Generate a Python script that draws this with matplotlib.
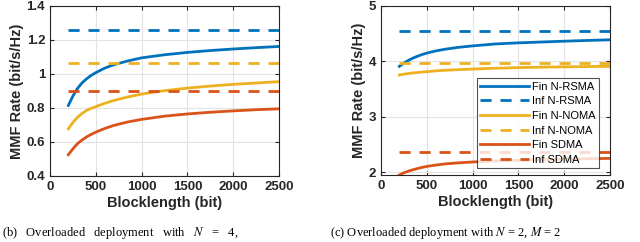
import matplotlib.pyplot as plt

plt.rcParams["font.family"] = ["Liberation Sans", "DejaVu Sans"]
plt.rcParams["mathtext.fontset"] = "stix"

C_RSMA = "#0072BD"
C_NOMA = "#EDB120"
C_SDMA = "#D95319"

blocklength = [200, 250, 300, 350, 400, 450, 500, 600, 700, 850,
               1000, 1250, 1500, 1750, 2000, 2250, 2500]

# left panel (b)
fin_rsma_b = [0.815, 0.87, 0.915, 0.948, 0.972, 0.992, 1.008, 1.035, 1.055,
              1.077, 1.095, 1.113, 1.127, 1.138, 1.147, 1.155, 1.162]
fin_noma_b = [0.677, 0.715, 0.745, 0.768, 0.786, 0.798, 0.808, 0.828, 0.845,
              0.865, 0.882, 0.902, 0.917, 0.929, 0.939, 0.947, 0.955]
fin_sdma_b = [0.525, 0.56, 0.59, 0.612, 0.63, 0.645, 0.658, 0.68, 0.698,
              0.718, 0.733, 0.752, 0.765, 0.775, 0.783, 0.79, 0.795]
inf_rsma_b, inf_noma_b, inf_sdma_b = 1.26, 1.065, 0.90

# right panel (c)
fin_rsma_c = [3.91, 3.97, 4.02, 4.06, 4.095, 4.125, 4.15, 4.19, 4.22, 4.255,
              4.28, 4.315, 4.335, 4.35, 4.365, 4.378, 4.39]
fin_noma_c = [3.755, 3.77, 3.782, 3.792, 3.80, 3.808, 3.815, 3.83, 3.84,
              3.852, 3.862, 3.877, 3.888, 3.896, 3.902, 3.907, 3.911]
fin_sdma_c = [1.95, 1.99, 2.02, 2.045, 2.068, 2.088, 2.105, 2.13, 2.15, 2.17,
              2.185, 2.203, 2.216, 2.226, 2.235, 2.243, 2.25]
inf_rsma_c, inf_noma_c, inf_sdma_c = 4.55, 3.975, 2.36

LW = 2.0
DASH = (0, (4, 3.2))


def style(ax, ylim, yticks, yfmt):
    ax.set_xlim(0, 2500)
    ax.set_ylim(*ylim)
    ax.set_xticks([0, 500, 1000, 1500, 2000, 2500])
    ax.set_yticks(yticks)
    ax.set_yticklabels([yfmt(v) for v in yticks])
    ax.grid(True, color="#e3e3e3", linewidth=0.8)
    ax.set_axisbelow(True)
    ax.tick_params(direction="in", length=3, labelsize=9.5, color="#262626",
                   top=True, right=True)
    for lbl in ax.get_xticklabels() + ax.get_yticklabels():
        lbl.set_fontweight("bold")
        lbl.set_color("#262626")
    for s in ax.spines.values():
        s.set_color("#262626")
        s.set_linewidth(0.8)
    ax.set_xlabel("Blocklength (bit)", fontsize=10.5, fontweight="bold",
                  color="#262626", labelpad=2)
    ax.set_ylabel("MMF Rate (bit/s/Hz)", fontsize=10.5, fontweight="bold",
                  color="#262626", labelpad=2)


def draw(ax, fr, fn, fs, ir, inn, isd):
    x = blocklength
    xe = [x[0], x[-1]]
    ax.plot(x, fr, color=C_RSMA, lw=LW, label="Fin N-RSMA")
    ax.plot(xe, [ir, ir], color=C_RSMA, lw=LW, ls=DASH, label="Inf N-RSMA")
    ax.plot(x, fn, color=C_NOMA, lw=LW, label="Fin N-NOMA")
    ax.plot(xe, [inn, inn], color=C_NOMA, lw=LW, ls=DASH, label="Inf N-NOMA")
    ax.plot(x, fs, color=C_SDMA, lw=LW, label="Fin SDMA")
    ax.plot(xe, [isd, isd], color=C_SDMA, lw=LW, ls=DASH, label="Inf SDMA")


fig = plt.figure(figsize=(6.4, 2.42), dpi=100)
ax1 = fig.add_axes([50 / 640, 1 - 176 / 242, 229 / 640, 170 / 242])
ax2 = fig.add_axes([381 / 640, 1 - 175 / 242, 229 / 640, 169 / 242])

draw(ax1, fin_rsma_b, fin_noma_b, fin_sdma_b, inf_rsma_b, inf_noma_b, inf_sdma_b)
draw(ax2, fin_rsma_c, fin_noma_c, fin_sdma_c, inf_rsma_c, inf_noma_c, inf_sdma_c)

style(ax1, (0.4, 1.4), [0.4, 0.6, 0.8, 1.0, 1.2, 1.4],
      lambda v: "1" if v == 1.0 else f"{v:.1f}")
style(ax2, (1.95, 5), [2, 3, 4, 5], lambda v: f"{v:d}")

leg = ax2.legend(loc="lower right", bbox_to_anchor=(0.952, 0.04), fontsize=8,
                 frameon=True, fancybox=False, edgecolor="#262626",
                 handlelength=4.4, handletextpad=0.3, labelspacing=0.42,
                 borderpad=0.3, borderaxespad=0)
leg.get_frame().set_linewidth(0.8)

# sub-figure captions (cut off by the page crop in the original)
cap_kw = dict(fontsize=9, family=["Liberation Serif", "DejaVu Serif"],
              va="bottom", color="black")
fig.text(2 / 640, 1 / 242,
         "(b)   Overloaded   deployment   with   $N$   =   4,", ha="left",
         **cap_kw)
fig.text(330 / 640, 1 / 242,
         "(c) Overloaded deployment with $N$ = 2, $M$ = 2", ha="left",
         **cap_kw)

fig.savefig("out.png", dpi=100)
